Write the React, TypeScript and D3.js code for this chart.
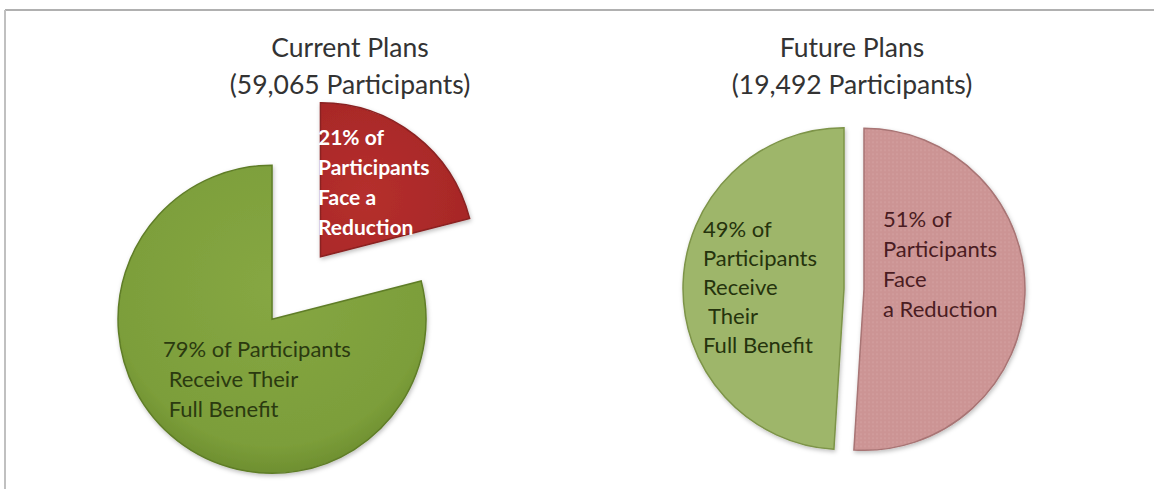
import React from "react";
import * as d3 from "d3";

const currentCategories = ["Face a Reduction", "Receive Full Benefit"];
const currentValues = [21, 79];
const futureCategories = ["Face a Reduction", "Receive Full Benefit"];
const futureValues = [51, 49];

const currentTitle = ["Current Plans", "(59,065 Participants)"];
const futureTitle = ["Future Plans", "(19,492 Participants)"];

const currentLabels = [
  ["21% of", "Participants", "Face a", "Reduction"],
  ["79% of Participants", " Receive Their", " Full Benefit"],
];
const futureLabels = [
  ["51% of", "Participants", "Face", "a Reduction"],
  ["49% of", "Participants", "Receive", " Their", "Full Benefit"],
];

const W = 1154;
const H = 489;
const FONT = "Lato, 'Open Sans', sans-serif";

type PieSpec = {
  cx: number;
  cy: number;
  r: number;
  explode: number[];
  fills: string[];
  strokes: string[];
  values: number[];
  cats: string[];
};

function Pie({ spec }: { spec: PieSpec }) {
  const pie = d3
    .pie<number>()
    .sort(null)
    .value((d) => d)
    .startAngle(0)
    .endAngle(2 * Math.PI);
  const arcs = pie(spec.values);
  const arc = d3.arc<d3.PieArcDatum<number>>().innerRadius(0).outerRadius(spec.r);
  return (
    <g transform={`translate(${spec.cx},${spec.cy})`}>
      {arcs.map((a, i) => {
        const mid = (a.startAngle + a.endAngle) / 2;
        const dx = Math.sin(mid) * spec.explode[i];
        const dy = -Math.cos(mid) * spec.explode[i];
        return (
          <path
            key={spec.cats[i]}
            d={arc(a) || ""}
            transform={`translate(${dx},${dy})`}
            fill={spec.fills[i]}
            stroke={spec.strokes[i]}
            strokeWidth={1.5}
            filter="url(#shadow)"
          />
        );
      })}
    </g>
  );
}

function Lines({
  x,
  y,
  lines,
  size,
  color,
  weight,
  gap,
}: {
  x: number;
  y: number;
  lines: string[];
  size: number;
  color: string;
  weight: number;
  gap: number;
}) {
  return (
    <text
      x={x}
      y={y}
      fontFamily={FONT}
      fontSize={size}
      fill={color}
      fontWeight={weight}
      style={{ whiteSpace: "pre" }}
    >
      {lines.map((l, i) => (
        <tspan key={i} x={x} y={y + i * gap}>
          {l}
        </tspan>
      ))}
    </text>
  );
}

export default function App() {
  const left: PieSpec = {
    cx: 280,
    cy: 309,
    r: 154,
    explode: [66, 13],
    fills: ["url(#redGrad)", "url(#greenGrad)"],
    strokes: ["#8a2020", "#5f7d28"],
    values: currentValues,
    cats: currentCategories,
  };
  const right: PieSpec = {
    cx: 854,
    cy: 289,
    r: 161,
    explode: [10, 10],
    fills: ["url(#dots)", "#9eb66a"],
    strokes: ["#a87474", "#7d9448"],
    values: futureValues,
    cats: futureCategories,
  };
  return (
    <svg
      width={W}
      height={H}
      style={{ position: "absolute", left: 0, top: 0, background: "#fff" }}
    >
      <defs>
        <filter id="shadow" x="-20%" y="-20%" width="140%" height="140%">
          <feDropShadow dx="1" dy="2" stdDeviation="2" floodColor="#000" floodOpacity="0.25" />
        </filter>
        <radialGradient id="greenGrad" cx="50%" cy="40%" r="60%">
          <stop offset="0%" stopColor="#86a743" />
          <stop offset="85%" stopColor="#7c9e3a" />
          <stop offset="100%" stopColor="#6e8f30" />
        </radialGradient>
        <radialGradient id="redGrad" cx="30%" cy="60%" r="80%">
          <stop offset="0%" stopColor="#b52f2d" />
          <stop offset="100%" stopColor="#a52626" />
        </radialGradient>
        <pattern id="dots" width="4" height="4" patternUnits="userSpaceOnUse">
          <rect width="4" height="4" fill="#cc9494" />
          <circle cx="1" cy="1" r="0.7" fill="#d8a8a8" />
        </pattern>
      </defs>
      <line x1={5} x2={W} y1={10} y2={10} stroke="#b0b0b0" strokeWidth={2} />
      <line x1={5} x2={5} y1={10} y2={H} stroke="#c0c0c0" strokeWidth={2} />

      <Pie spec={left} />
      <Pie spec={right} />

      {currentTitle.map((t, i) => (
        <text
          key={t}
          x={350}
          y={57 + i * 37}
          textAnchor="middle"
          fontFamily={FONT}
          fontSize={26.5}
          fill="#333"
        >
          {t}
        </text>
      ))}
      {futureTitle.map((t, i) => (
        <text
          key={t}
          x={852}
          y={57 + i * 37}
          textAnchor="middle"
          fontFamily={FONT}
          fontSize={26.5}
          fill="#333"
        >
          {t}
        </text>
      ))}

      <Lines x={318} y={145} lines={currentLabels[0]} size={21} color="#ffffff" weight={700} gap={30} />
      <Lines x={163} y={357} lines={currentLabels[1]} size={22} color="#2b3a10" weight={400} gap={30} />
      <Lines x={883} y={227} lines={futureLabels[0]} size={22} color="#4a1c22" weight={400} gap={30} />
      <Lines x={703} y={237} lines={futureLabels[1]} size={22} color="#25330d" weight={400} gap={29} />
    </svg>
  );
}
